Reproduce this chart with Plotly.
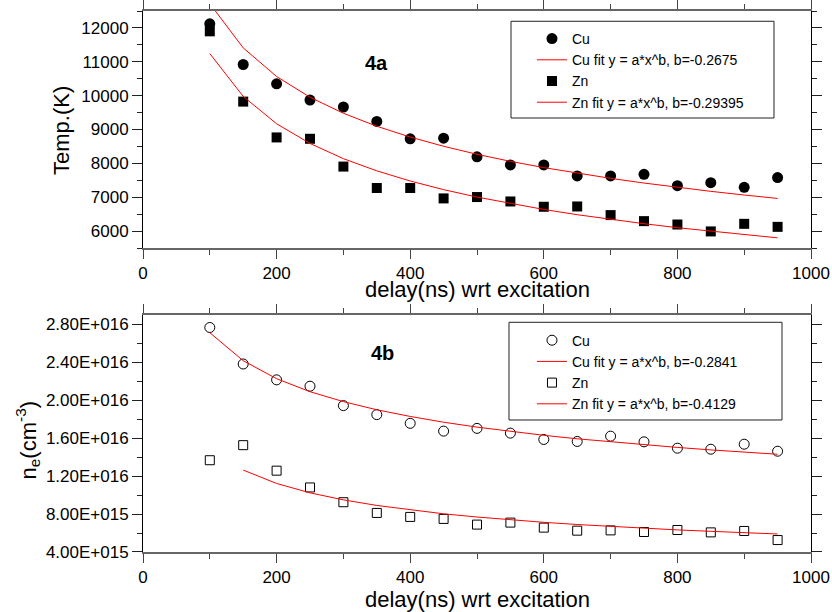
import plotly.graph_objects as go

# ---------------- data ----------------
delay = [100, 150, 200, 250, 300, 350, 400, 450, 500, 550, 600, 650, 700, 750, 800, 850, 900, 950]

temp_cu = [12120, 10920, 10350, 9870, 9665, 9240, 8726, 8745, 8192, 7955, 7955, 7629, 7630, 7677, 7341, 7430, 7291, 7579]
temp_zn = [11900, 9824, 8766, 8726, 7905, 7272, 7272, 6965, 7005, 6875, 6718, 6727, 6472, 6294, 6194, 5990, 6214, 6125]
temp_cu_fit = [12718, 11411, 10565, 9953, 9479, 9096, 8777, 8505, 8268, 8060, 7875, 7708, 7557, 7419, 7291, 7174, 7065, 6964]
temp_zn_fit = [11242, 9978, 9169, 8588, 8139, 7779, 7479, 7224, 7004, 6811, 6639, 6484, 6345, 6218, 6100, 5993, 5893, 5800]

ne_cu = [2.768e16, 2.383e16, 2.216e16, 2.149e16, 1.944e16, 1.849e16, 1.757e16, 1.675e16, 1.704e16,
         1.654e16, 1.587e16, 1.566e16, 1.622e16, 1.562e16, 1.495e16, 1.484e16, 1.537e16, 1.463e16]
ne_zn = [1.368e16, 1.527e16, 1.258e16, 1.081e16, 9.25e15, 8.12e15, 7.70e15, 7.49e15, 6.89e15,
         7.10e15, 6.57e15, 6.25e15, 6.28e15, 6.11e15, 6.32e15, 6.07e15, 6.22e15, 5.26e15]
ne_cu_fit = [2.713e16, 2.418e16, 2.228e16, 2.091e16, 1.986e16, 1.900e16, 1.830e16, 1.769e16, 1.717e16,
             1.671e16, 1.631e16, 1.594e16, 1.561e16, 1.530e16, 1.503e16, 1.477e16, 1.453e16, 1.431e16]
delay_zn_fit = [150, 200, 250, 300, 350, 400, 450, 500, 550, 600, 650, 700, 750, 800, 850, 900, 950]
ne_zn_fit = [1.264e16, 1.123e16, 1.024e16, 9.50e15, 8.91e15, 8.43e15, 8.03e15, 7.69e15, 7.39e15,
             7.13e15, 6.90e15, 6.69e15, 6.50e15, 6.33e15, 6.18e15, 6.03e15, 5.90e15]

x_ticks = [0, 200, 400, 600, 800, 1000]
temp_ticks = [6000, 7000, 8000, 9000, 10000, 11000, 12000]
temp_tick_labels = ["6000", "7000", "8000", "9000", "10000", "11000", "12000"]
ne_ticks = [4e15, 8e15, 1.2e16, 1.6e16, 2.0e16, 2.4e16, 2.8e16]
ne_tick_labels = ["4.00E+015", "8.00E+015", "1.20E+016", "1.60E+016", "2.00E+016", "2.40E+016", "2.80E+016"]

names_top = ["Cu", "Cu fit y = a*x^b, b=-0.2675", "Zn", "Zn fit y = a*x^b, b=-0.29395"]
names_bot = ["Cu", "Cu fit y = a*x^b, b=-0.2841", "Zn", "Zn fit y = a*x^b, b=-0.4129"]

x_title = "delay(ns) wrt excitation"
y_title_top = "Temp.(K)"
y_title_bot = "n<sub>e</sub>(cm<sup>-3</sup>)"

# ---------------- figure ----------------
FONT = "Liberation Sans, Arial, sans-serif"
RED = "#ff0000"

fig = go.Figure()

# top panel
fig.add_trace(go.Scatter(x=delay, y=temp_cu, mode="markers", name=names_top[0],
                         marker=dict(symbol="circle", size=11, color="black"),
                         xaxis="x", yaxis="y", legend="legend"))
fig.add_trace(go.Scatter(x=delay, y=temp_cu_fit, mode="lines", name=names_top[1],
                         line=dict(color=RED, width=1), xaxis="x", yaxis="y", legend="legend"))
fig.add_trace(go.Scatter(x=delay, y=temp_zn, mode="markers", name=names_top[2],
                         marker=dict(symbol="square", size=10, color="black"),
                         xaxis="x", yaxis="y", legend="legend"))
fig.add_trace(go.Scatter(x=delay, y=temp_zn_fit, mode="lines", name=names_top[3],
                         line=dict(color=RED, width=1), xaxis="x", yaxis="y", legend="legend"))

# bottom panel
fig.add_trace(go.Scatter(x=delay, y=ne_cu, mode="markers", name=names_bot[0],
                         marker=dict(symbol="circle-open", size=10, color="black", line=dict(width=1)),
                         xaxis="x2", yaxis="y2", legend="legend2"))
fig.add_trace(go.Scatter(x=delay, y=ne_cu_fit, mode="lines", name=names_bot[1],
                         line=dict(color=RED, width=1), xaxis="x2", yaxis="y2", legend="legend2"))
fig.add_trace(go.Scatter(x=delay, y=ne_zn, mode="markers", name=names_bot[2],
                         marker=dict(symbol="square-open", size=9, color="black", line=dict(width=1)),
                         xaxis="x2", yaxis="y2", legend="legend2"))
fig.add_trace(go.Scatter(x=delay_zn_fit, y=ne_zn_fit, mode="lines", name=names_bot[3],
                         line=dict(color=RED, width=1), xaxis="x2", yaxis="y2", legend="legend2"))

tickfont = dict(family=FONT, size=17, color="black")
titlefont = dict(family=FONT, size=22, color="black")

def xaxis_cfg(anchor):
    return dict(anchor=anchor, range=[0, 1000], tickvals=x_ticks, ticks="outside", ticklen=9,
                tickwidth=1, tickcolor="#444", showline=True, linecolor="#666", linewidth=1.5,
                mirror="allticks", showgrid=False, zeroline=False, tickfont=tickfont,
                ticklabelstandoff=0,
                minor=dict(dtick=100, tick0=0, ticks="outside", ticklen=5, tickcolor="#444", showgrid=False))

def yaxis_cfg(anchor, rng, tickvals, ticktext, domain, minor_dtick):
    return dict(anchor=anchor, range=rng, tickvals=tickvals, ticktext=ticktext, domain=domain,
                ticks="outside", ticklen=10,
                tickwidth=1, tickcolor="#222", showline=True, linecolor="black", linewidth=1,
                mirror="allticks", showgrid=False, zeroline=False, tickfont=tickfont,
                minor=dict(dtick=minor_dtick, tick0=0, ticks="outside", ticklen=5, tickcolor="#222", showgrid=False))

top_dom = [0.5619, 1.0]
bot_dom = [0.0, 0.4381]

fig.update_layout(
    width=832, height=612,
    margin=dict(l=143, r=21, t=11, b=60, autoexpand=False),
    paper_bgcolor="white", plot_bgcolor="white",
    font=dict(family=FONT, color="black"),
    xaxis=xaxis_cfg("y"),
    yaxis=yaxis_cfg("x", [5500, 12500], temp_ticks, temp_tick_labels, top_dom, 500),
    xaxis2=xaxis_cfg("y2"),
    yaxis2=yaxis_cfg("x2", [4e15, 2.9e16], ne_ticks, ne_tick_labels, bot_dom, 2e15),
    legend=dict(x=0.5823, y=0.9778, xanchor="left", yanchor="top", bgcolor="rgba(0,0,0,0)",
                borderwidth=0, font=dict(family=FONT, size=14, color="black")),
    legend2=dict(x=0.5823, y=0.4203, xanchor="left", yanchor="top", bgcolor="rgba(0,0,0,0)",
                 borderwidth=0, font=dict(family=FONT, size=14, color="black")),
    showlegend=True,
)

# legend frames
fig.add_shape(type="rect", xref="paper", yref="paper", x0=0.5509, x1=0.9446, y0=0.8022, y1=0.981,
              line=dict(color="#222", width=1), fillcolor="rgba(0,0,0,0)")
fig.add_shape(type="rect", xref="paper", yref="paper", x0=0.5479, x1=0.9566, y0=0.244, y1=0.4246,
              line=dict(color="#222", width=1), fillcolor="rgba(0,0,0,0)")

# axis titles
fig.add_annotation(text=x_title, xref="paper", yref="paper", x=0.5, y=0.4843, yanchor="middle",
                   showarrow=False, font=titlefont)
fig.add_annotation(text=x_title, xref="paper", yref="paper", x=0.5, y=-0.0887, yanchor="middle",
                   showarrow=False, font=titlefont)
fig.add_annotation(text=y_title_top, xref="paper", yref="paper", x=-0.1228, y=0.780, xanchor="center",
                   yanchor="middle", textangle=-90, showarrow=False, font=titlefont)
fig.add_annotation(text=y_title_bot, xref="paper", yref="paper", x=-0.173, y=0.207, xanchor="center",
                   yanchor="middle", textangle=-90, showarrow=False, font=titlefont)

# panel labels
fig.add_annotation(text="<b>4a</b>", xref="paper", yref="paper", x=0.329, y=0.928, showarrow=False,
                   font=dict(family=FONT, size=20, color="black"))
fig.add_annotation(text="<b>4b</b>", xref="paper", yref="paper", x=0.358, y=0.368, showarrow=False,
                   font=dict(family=FONT, size=20, color="black"))

fig.write_html("out.html")
